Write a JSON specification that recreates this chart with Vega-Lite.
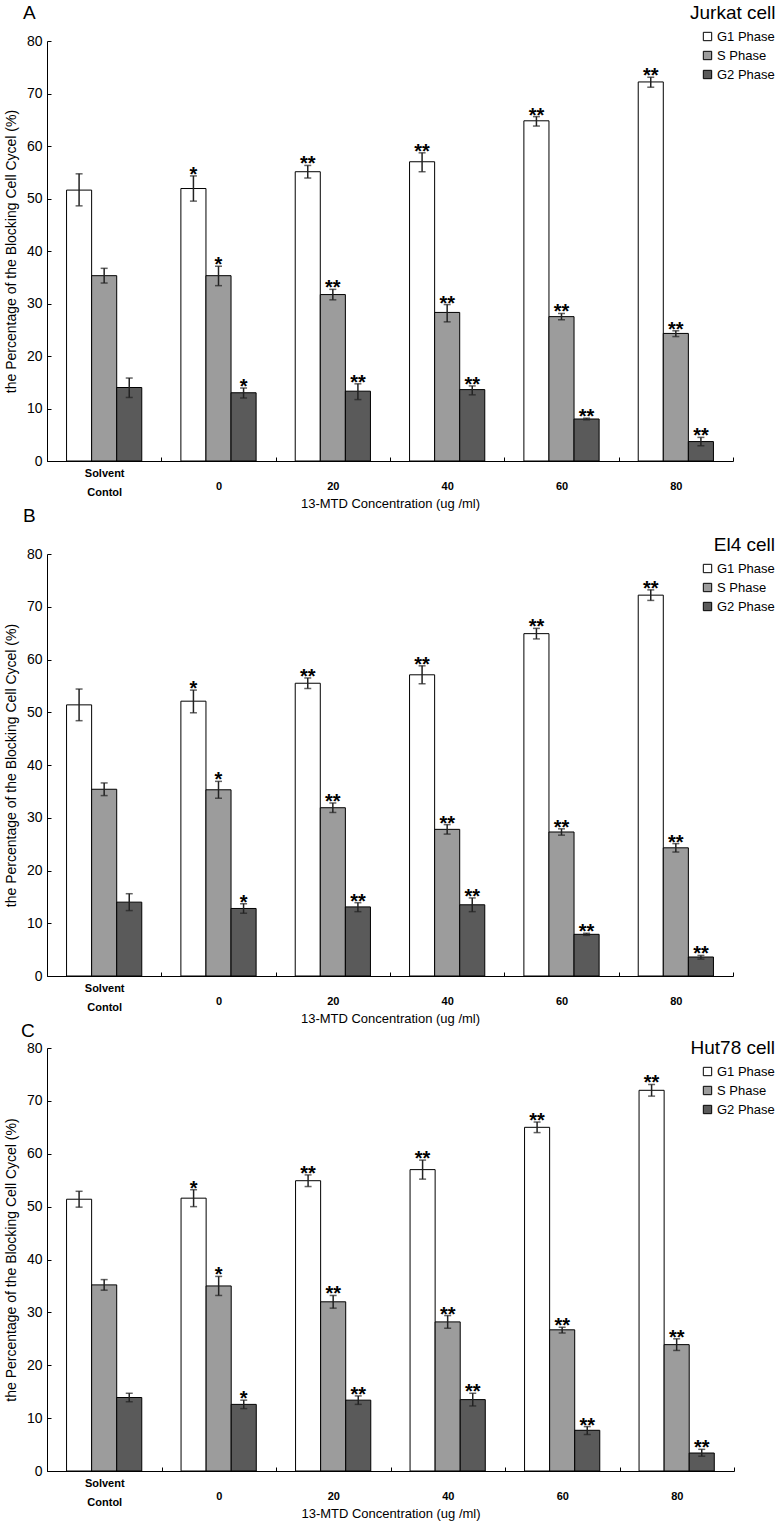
{
  "$schema": "https://vega.github.io/schema/vega-lite/v6.json",
  "padding": {"left": 4, "top": 4, "right": 4, "bottom": 4},
  "background": "white",
  "datasets": {
    "cells": [
      {"p":"A","d":"Solvent Contol","ph":"G1 Phase","v":51.6,"lo":48.6,"hi":54.7,"s":""},
      {"p":"A","d":"Solvent Contol","ph":"S Phase","v":35.3,"lo":33.9,"hi":36.7,"s":""},
      {"p":"A","d":"Solvent Contol","ph":"G2 Phase","v":14.0,"lo":12.1,"hi":15.8,"s":""},
      {"p":"A","d":"0","ph":"G1 Phase","v":51.9,"lo":49.5,"hi":54.3,"s":"*"},
      {"p":"A","d":"0","ph":"S Phase","v":35.3,"lo":33.4,"hi":37.1,"s":"*"},
      {"p":"A","d":"0","ph":"G2 Phase","v":13.0,"lo":12.0,"hi":13.9,"s":"*"},
      {"p":"A","d":"20","ph":"G1 Phase","v":55.1,"lo":53.9,"hi":56.3,"s":"**"},
      {"p":"A","d":"20","ph":"S Phase","v":31.7,"lo":30.7,"hi":32.7,"s":"**"},
      {"p":"A","d":"20","ph":"G2 Phase","v":13.3,"lo":11.7,"hi":14.7,"s":"**"},
      {"p":"A","d":"40","ph":"G1 Phase","v":57.0,"lo":55.1,"hi":58.7,"s":"**"},
      {"p":"A","d":"40","ph":"S Phase","v":28.3,"lo":26.5,"hi":29.8,"s":"**"},
      {"p":"A","d":"40","ph":"G2 Phase","v":13.6,"lo":12.6,"hi":14.3,"s":"**"},
      {"p":"A","d":"60","ph":"G1 Phase","v":64.8,"lo":63.8,"hi":65.6,"s":"**"},
      {"p":"A","d":"60","ph":"S Phase","v":27.5,"lo":26.9,"hi":28.1,"s":"**"},
      {"p":"A","d":"60","ph":"G2 Phase","v":8.0,"lo":7.85,"hi":8.15,"s":"**"},
      {"p":"A","d":"80","ph":"G1 Phase","v":72.2,"lo":71.2,"hi":73.1,"s":"**"},
      {"p":"A","d":"80","ph":"S Phase","v":24.3,"lo":23.7,"hi":24.8,"s":"**"},
      {"p":"A","d":"80","ph":"G2 Phase","v":3.7,"lo":2.9,"hi":4.5,"s":"**"},

      {"p":"B","d":"Solvent Contol","ph":"G1 Phase","v":51.4,"lo":48.4,"hi":54.4,"s":""},
      {"p":"B","d":"Solvent Contol","ph":"S Phase","v":35.4,"lo":34.2,"hi":36.6,"s":""},
      {"p":"B","d":"Solvent Contol","ph":"G2 Phase","v":14.0,"lo":12.4,"hi":15.6,"s":""},
      {"p":"B","d":"0","ph":"G1 Phase","v":52.1,"lo":49.9,"hi":54.2,"s":"*"},
      {"p":"B","d":"0","ph":"S Phase","v":35.3,"lo":33.7,"hi":36.9,"s":"*"},
      {"p":"B","d":"0","ph":"G2 Phase","v":12.8,"lo":11.9,"hi":13.7,"s":"*"},
      {"p":"B","d":"20","ph":"G1 Phase","v":55.5,"lo":54.5,"hi":56.5,"s":"**"},
      {"p":"B","d":"20","ph":"S Phase","v":31.9,"lo":31.0,"hi":32.8,"s":"**"},
      {"p":"B","d":"20","ph":"G2 Phase","v":13.1,"lo":12.2,"hi":13.9,"s":"**"},
      {"p":"B","d":"40","ph":"G1 Phase","v":57.1,"lo":55.4,"hi":58.8,"s":"**"},
      {"p":"B","d":"40","ph":"S Phase","v":27.8,"lo":26.9,"hi":28.7,"s":"**"},
      {"p":"B","d":"40","ph":"G2 Phase","v":13.5,"lo":12.2,"hi":14.8,"s":"**"},
      {"p":"B","d":"60","ph":"G1 Phase","v":64.9,"lo":63.9,"hi":65.9,"s":"**"},
      {"p":"B","d":"60","ph":"S Phase","v":27.3,"lo":26.7,"hi":27.9,"s":"**"},
      {"p":"B","d":"60","ph":"G2 Phase","v":7.9,"lo":7.7,"hi":8.1,"s":"**"},
      {"p":"B","d":"80","ph":"G1 Phase","v":72.2,"lo":71.2,"hi":73.2,"s":"**"},
      {"p":"B","d":"80","ph":"S Phase","v":24.3,"lo":23.5,"hi":25.1,"s":"**"},
      {"p":"B","d":"80","ph":"G2 Phase","v":3.6,"lo":3.2,"hi":3.9,"s":"**"},

      {"p":"C","d":"Solvent Contol","ph":"G1 Phase","v":51.4,"lo":49.9,"hi":52.9,"s":""},
      {"p":"C","d":"Solvent Contol","ph":"S Phase","v":35.2,"lo":34.2,"hi":36.2,"s":""},
      {"p":"C","d":"Solvent Contol","ph":"G2 Phase","v":13.9,"lo":13.1,"hi":14.7,"s":""},
      {"p":"C","d":"0","ph":"G1 Phase","v":51.6,"lo":50.0,"hi":53.2,"s":"*"},
      {"p":"C","d":"0","ph":"S Phase","v":35.0,"lo":33.2,"hi":36.8,"s":"*"},
      {"p":"C","d":"0","ph":"G2 Phase","v":12.6,"lo":11.8,"hi":13.4,"s":"*"},
      {"p":"C","d":"20","ph":"G1 Phase","v":54.9,"lo":53.8,"hi":56.0,"s":"**"},
      {"p":"C","d":"20","ph":"S Phase","v":32.0,"lo":30.8,"hi":33.2,"s":"**"},
      {"p":"C","d":"20","ph":"G2 Phase","v":13.4,"lo":12.6,"hi":14.2,"s":"**"},
      {"p":"C","d":"40","ph":"G1 Phase","v":57.0,"lo":55.2,"hi":58.8,"s":"**"},
      {"p":"C","d":"40","ph":"S Phase","v":28.2,"lo":27.0,"hi":29.4,"s":"**"},
      {"p":"C","d":"40","ph":"G2 Phase","v":13.5,"lo":12.3,"hi":14.7,"s":"**"},
      {"p":"C","d":"60","ph":"G1 Phase","v":65.0,"lo":64.0,"hi":66.0,"s":"**"},
      {"p":"C","d":"60","ph":"S Phase","v":26.7,"lo":26.1,"hi":27.2,"s":"**"},
      {"p":"C","d":"60","ph":"G2 Phase","v":7.7,"lo":6.9,"hi":8.4,"s":"**"},
      {"p":"C","d":"80","ph":"G1 Phase","v":72.0,"lo":70.9,"hi":73.1,"s":"**"},
      {"p":"C","d":"80","ph":"S Phase","v":23.9,"lo":22.8,"hi":25.0,"s":"**"},
      {"p":"C","d":"80","ph":"G2 Phase","v":3.4,"lo":2.8,"hi":4.1,"s":"**"}
    ]
  },
  "data": {"name": "cells"},
  "spacing": -3,
  "resolve": {"scale": {"color": "independent"}, "legend": {"color": "independent"}},
  "vconcat": [
    {
      "width": 686, "height": 420,
      "title": {"text": "A", "anchor": "start", "frame": "group", "dx": -24, "offset": -19},
      "transform": [{"filter": "datum.p == 'A'"}],
      "encoding": {
        "x": {"field": "d", "type": "nominal", "sort": ["Solvent Contol","0","20","40","60","80"], "scale": {"paddingInner": 0, "paddingOuter": 0}, "title": "13-MTD Concentration (ug /ml)",
          "axis": {"labelPadding": {"condition": {"test": "datum.value == 'Solvent Contol'", "value": 16}, "value": 29}}},
        "xOffset": {"field": "ph", "type": "nominal", "sort": ["G1 Phase","S Phase","G2 Phase"], "scale": {"paddingInner": 0, "paddingOuter": 0.78}}
      },
      "layer": [
        {"mark": {"type": "bar", "stroke": "black", "strokeWidth": 1},
         "encoding": {
           "y": {"field": "v", "type": "quantitative", "scale": {"domain": [0, 80], "nice": false}, "axis": {"values": [0,10,20,30,40,50,60,70,80]}, "title": "the Percentage of the Blocking Cell Cycel (%)"},
           "color": {"field": "ph", "type": "nominal", "sort": ["G1 Phase","S Phase","G2 Phase"], "scale": {"domain": ["G1 Phase","S Phase","G2 Phase"], "range": ["#ffffff","#9c9c9c","#5a5a5a"]},
             "legend": {"title": "Jurkat cell", "orient": "none", "legendX": 643, "legendY": -37}}
         }},
        {"mark": {"type": "rule", "color": "#222", "strokeWidth": 1.5}, "encoding": {"y": {"field": "lo", "type": "quantitative"}, "y2": {"field": "hi"}}},
        {"mark": {"type": "tick", "orient": "horizontal", "color": "#222", "size": 7, "thickness": 1.5}, "encoding": {"y": {"field": "hi", "type": "quantitative"}}},
        {"mark": {"type": "tick", "orient": "horizontal", "color": "#222", "size": 7, "thickness": 1.5}, "encoding": {"y": {"field": "lo", "type": "quantitative"}}},
        {"mark": {"type": "text", "fontSize": 20, "fontWeight": "bold", "baseline": "alphabetic", "dy": 5, "color": "black"}, "encoding": {"y": {"field": "hi", "type": "quantitative"}, "text": {"field": "s"}}}
      ]
    },
    {
      "width": 686, "height": 422,
      "title": {"text": "B", "anchor": "start", "frame": "group", "dx": -24, "offset": 10},
      "transform": [{"filter": "datum.p == 'B'"}],
      "encoding": {
        "x": {"field": "d", "type": "nominal", "sort": ["Solvent Contol","0","20","40","60","80"], "scale": {"paddingInner": 0, "paddingOuter": 0}, "title": "13-MTD Concentration (ug /ml)",
          "axis": {"labelPadding": {"condition": {"test": "datum.value == 'Solvent Contol'", "value": 16}, "value": 29}}},
        "xOffset": {"field": "ph", "type": "nominal", "sort": ["G1 Phase","S Phase","G2 Phase"], "scale": {"paddingInner": 0, "paddingOuter": 0.78}}
      },
      "layer": [
        {"mark": {"type": "bar", "stroke": "black", "strokeWidth": 1},
         "encoding": {
           "y": {"field": "v", "type": "quantitative", "scale": {"domain": [0, 80], "nice": false}, "axis": {"values": [0,10,20,30,40,50,60,70,80]}, "title": "the Percentage of the Blocking Cell Cycel (%)"},
           "color": {"field": "ph", "type": "nominal", "sort": ["G1 Phase","S Phase","G2 Phase"], "scale": {"domain": ["G1 Phase","S Phase","G2 Phase"], "range": ["#ffffff","#9c9c9c","#5a5a5a"]},
             "legend": {"title": "El4 cell", "orient": "none", "legendX": 643, "legendY": -18, "titleAnchor": "end"}}
         }},
        {"mark": {"type": "rule", "color": "#222", "strokeWidth": 1.5}, "encoding": {"y": {"field": "lo", "type": "quantitative"}, "y2": {"field": "hi"}}},
        {"mark": {"type": "tick", "orient": "horizontal", "color": "#222", "size": 7, "thickness": 1.5}, "encoding": {"y": {"field": "hi", "type": "quantitative"}}},
        {"mark": {"type": "tick", "orient": "horizontal", "color": "#222", "size": 7, "thickness": 1.5}, "encoding": {"y": {"field": "lo", "type": "quantitative"}}},
        {"mark": {"type": "text", "fontSize": 20, "fontWeight": "bold", "baseline": "alphabetic", "dy": 5, "color": "black"}, "encoding": {"y": {"field": "hi", "type": "quantitative"}, "text": {"field": "s"}}}
      ]
    },
    {
      "width": 687, "height": 423,
      "title": {"text": "C", "anchor": "start", "frame": "group", "dx": -26, "offset": -2},
      "transform": [{"filter": "datum.p == 'C'"}],
      "encoding": {
        "x": {"field": "d", "type": "nominal", "sort": ["Solvent Contol","0","20","40","60","80"], "scale": {"paddingInner": 0, "paddingOuter": 0}, "title": "13-MTD Concentration (ug /ml)",
          "axis": {"labelPadding": {"condition": {"test": "datum.value == 'Solvent Contol'", "value": 16}, "value": 29}}},
        "xOffset": {"field": "ph", "type": "nominal", "sort": ["G1 Phase","S Phase","G2 Phase"], "scale": {"paddingInner": 0, "paddingOuter": 0.78}}
      },
      "layer": [
        {"mark": {"type": "bar", "stroke": "black", "strokeWidth": 1},
         "encoding": {
           "y": {"field": "v", "type": "quantitative", "scale": {"domain": [0, 80], "nice": false}, "axis": {"values": [0,10,20,30,40,50,60,70,80]}, "title": "the Percentage of the Blocking Cell Cycel (%)"},
           "color": {"field": "ph", "type": "nominal", "sort": ["G1 Phase","S Phase","G2 Phase"], "scale": {"domain": ["G1 Phase","S Phase","G2 Phase"], "range": ["#ffffff","#9c9c9c","#5a5a5a"]},
             "legend": {"title": "Hut78 cell", "orient": "none", "legendX": 643, "legendY": -9, "titleAnchor": "end"}}
         }},
        {"mark": {"type": "rule", "color": "#222", "strokeWidth": 1.5}, "encoding": {"y": {"field": "lo", "type": "quantitative"}, "y2": {"field": "hi"}}},
        {"mark": {"type": "tick", "orient": "horizontal", "color": "#222", "size": 7, "thickness": 1.5}, "encoding": {"y": {"field": "hi", "type": "quantitative"}}},
        {"mark": {"type": "tick", "orient": "horizontal", "color": "#222", "size": 7, "thickness": 1.5}, "encoding": {"y": {"field": "lo", "type": "quantitative"}}},
        {"mark": {"type": "text", "fontSize": 20, "fontWeight": "bold", "baseline": "alphabetic", "dy": 5, "color": "black"}, "encoding": {"y": {"field": "hi", "type": "quantitative"}, "text": {"field": "s"}}}
      ]
    }
  ],
  "config": {
    "font": "Liberation Sans",
    "view": {"stroke": null},
    "title": {"fontSize": 19, "fontWeight": "normal", "color": "black", "font": "Liberation Sans"},
    "axis": {"domainColor": "black", "tickColor": "black", "labelColor": "black", "titleColor": "black", "grid": false, "titleFontWeight": "normal"},
    "axisX": {"labelAngle": 0, "labelFontSize": 11, "labelFontWeight": "bold", "labelBaseline": "middle", "labelLineHeight": 19,
      "labelExpr": "datum.label == 'Solvent Contol' ? ['Solvent', 'Contol'] : datum.label",
      "tickBand": "extent", "tickSize": -4, "titleFontSize": 13, "titlePadding": 0},
    "axisY": {"labelFontSize": 14, "titleFontSize": 14, "tickSize": -4, "labelPadding": 9, "titlePadding": 8},
    "legend": {"titleFontSize": 19, "titleFontWeight": "normal", "titleColor": "black", "labelFontSize": 13, "labelColor": "black",
      "symbolType": "square", "symbolSize": 70, "symbolStrokeColor": "black", "symbolStrokeWidth": 1, "symbolOffset": 11,
      "rowPadding": 5, "titlePadding": 7, "labelOffset": 3}
  }
}
